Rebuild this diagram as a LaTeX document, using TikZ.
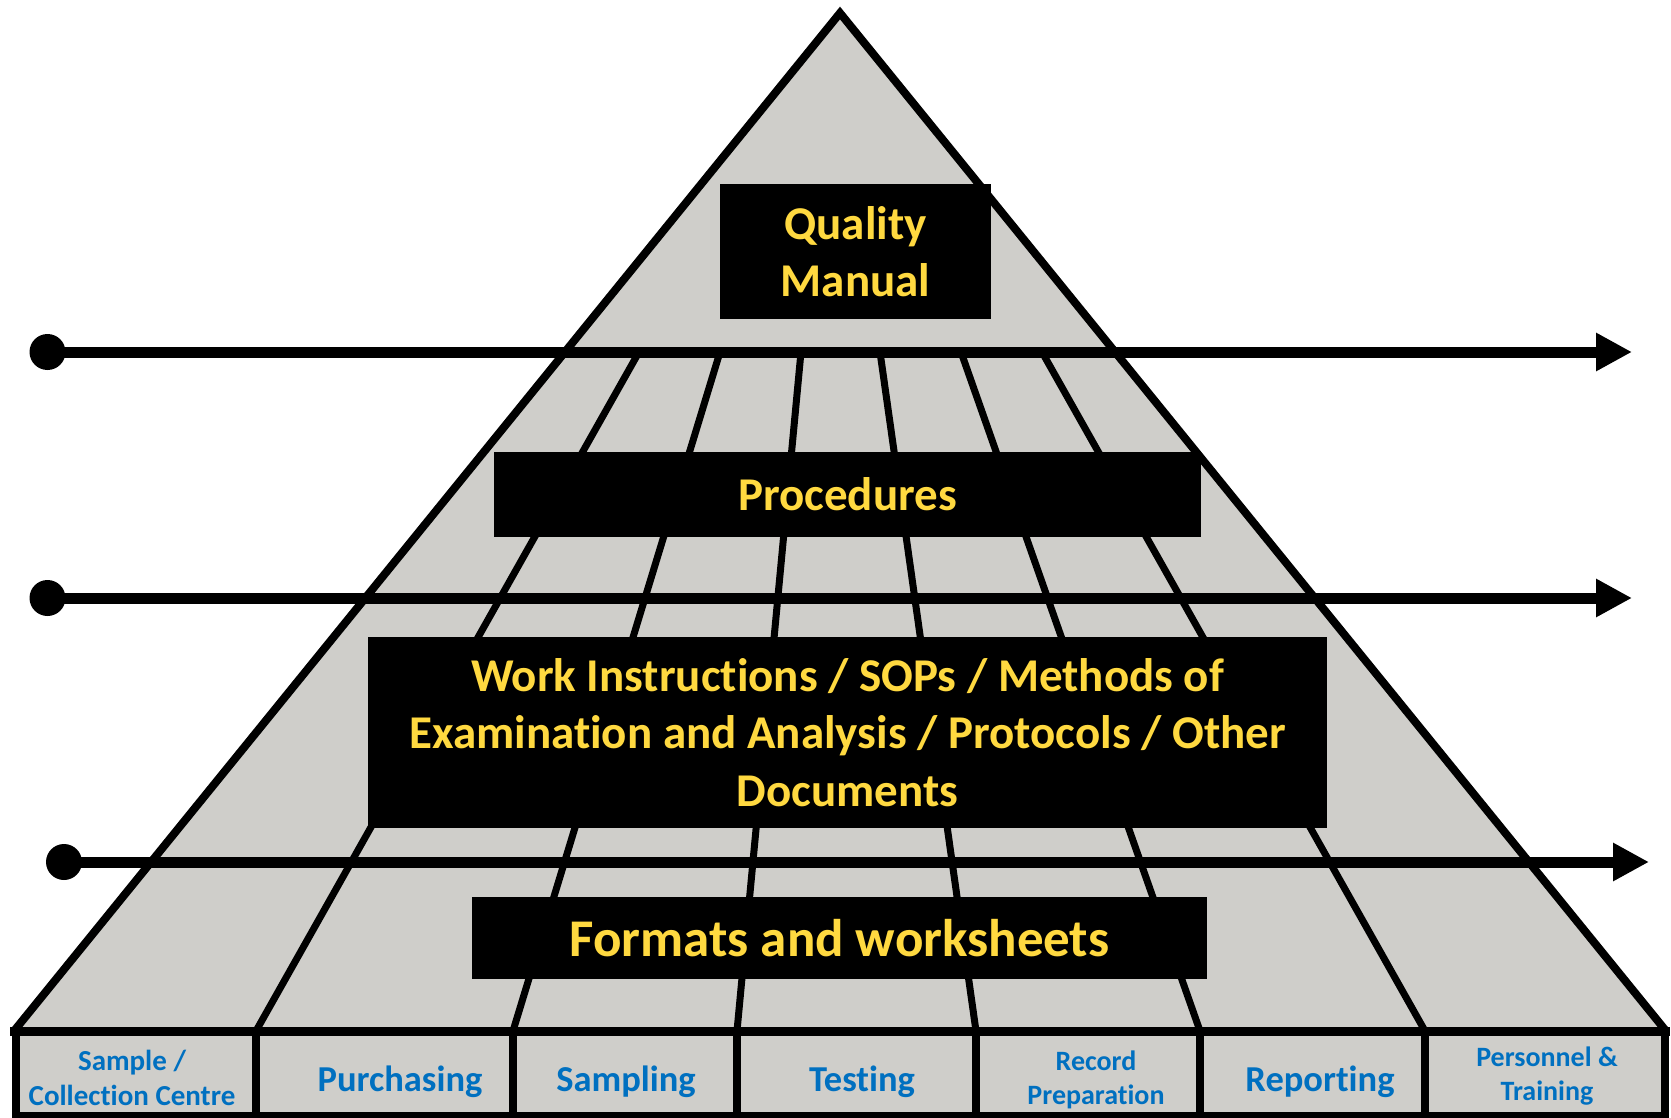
\documentclass[tikz,border=0pt]{standalone}
\usepackage{fontspec}
\setmainfont[RawFeature={-liga;-clig;-calt;-dlig}]{Carlito}
\usetikzlibrary{arrows.meta}
\definecolor{pyrgray}{RGB}{207,206,202}
\definecolor{labyellow}{RGB}{255,217,64}
\definecolor{labblue}{RGB}{0,112,192}
\begin{document}
\begin{tikzpicture}[x=1pt,y=-1pt,
  edge/.style={line width=8pt, line join=miter},
  gridline/.style={line width=7pt},
  flow/.style={line width=11pt, -{Triangle[length=36pt,width=36pt]}},
  startdot/.style={circle, fill=black, draw=none, inner sep=0pt, minimum size=36pt},
  blackbox/.style={fill=black, draw=none, inner sep=0pt, text=labyellow, font=\bfseries\fontsize{47}{57.5}\selectfont, align=center},
  celltext/.style={text=labblue, inner sep=0pt, font=\bfseries\fontsize{36.5}{44}\selectfont, align=center},
  smallcell/.style={text=labblue, inner sep=0pt, font=\bfseries\fontsize{28}{34}\selectfont, align=center},
  tableline/.style={line width=8pt},
]
\useasboundingbox (0,0) rectangle (1671,1118);

% pyramid
\coordinate (apex) at (840,13);
\coordinate (bl) at (14,1031);
\coordinate (br) at (1666,1031);
\fill[pyrgray] (apex) -- (bl) -- (br) -- cycle;

% converging grid lines
\draw[gridline] (639,352) -- (256,1031);
\draw[gridline] (720,352) -- (513,1031);
\draw[gridline] (801,352) -- (737,1031);
\draw[gridline] (880,352) -- (976,1031);
\draw[gridline] (961,352) -- (1200,1031);
\draw[gridline] (1042,352) -- (1425,1031);

\draw[edge] (bl) -- (apex) -- (br);

% arrows
\node[startdot] (s1) at (47.5,352) {};
\node[startdot] (s2) at (47.5,598) {};
\node[startdot] (s3) at (64,862) {};
\coordinate (e1) at (1632,352);
\coordinate (e2) at (1632,598);
\coordinate (e3) at (1649,862);
\draw[flow] (s1.center) -- (e1);
\draw[flow] (s2.center) -- (e2);
\draw[flow] (s3.center) -- (e3);

% boxes
\node[blackbox, minimum width=271pt, minimum height=135pt] (qm) at (855.5,251.5) {Quality\\Manual};
\node[blackbox, minimum width=707pt, minimum height=85pt] (proc) at (847.5,494.5) {Procedures};
\node[blackbox, minimum width=959pt, minimum height=191pt] (work) at (847.5,732.5) {Work Instructions / SOPs / Methods of\\Examination and Analysis / Protocols / Other\\Documents};
\node[blackbox, minimum width=735pt, minimum height=82pt, font=\bfseries\fontsize{53}{64}\selectfont] (fmt) at (839.5,938) {Formats and worksheets};

% table
\fill[pyrgray] (16,1031) rectangle (1665,1116);
\draw[tableline] (16,1031) -- (16,1120);
\draw[tableline] (1665,1031) -- (1665,1120);
\draw[tableline] (16,1116) -- (1665,1116);
\foreach \x in {256,513,737,976,1200,1425}
  \draw[tableline] (\x,1031) -- (\x,1116);
\draw[line width=9pt] (10,1031) -- (1670,1031);

\node[celltext, font=\bfseries\fontsize{29}{35}\selectfont] (c1) at (132,1078) {Sample /\\Collection Centre};
\node[celltext] (c2) at (400,1082) {Purchasing};
\node[celltext] (c3) at (626,1082) {Sampling};
\node[celltext] (c4) at (862,1082) {Testing};
\node[smallcell] (c5) at (1096,1080) {Record\\Preparation};
\node[celltext] (c6) at (1320,1082) {Reporting};
\node[smallcell] (c7) at (1547,1076) {Personnel \&\\Training};
\end{tikzpicture}
\end{document}
